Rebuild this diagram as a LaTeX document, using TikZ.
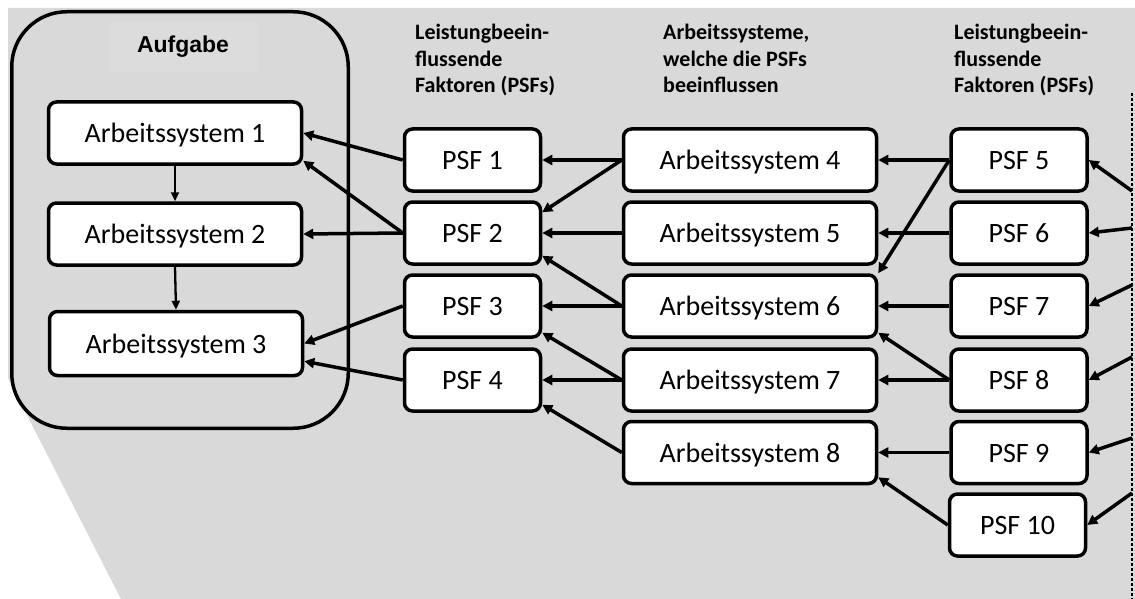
\documentclass[tikz,border=0pt]{standalone}
\usepackage{fontspec}
\setmainfont{Carlito}
\newfontfamily\labelfont{Liberation Sans}
\usetikzlibrary{arrows.meta,calc}
\definecolor{bggray}{HTML}{D9D9D9}
\definecolor{labelgray}{HTML}{DCDCDC}

\begin{document}
\begin{tikzpicture}[x=1pt,y=-1pt,
  box/.style={draw, line width=3.5pt, rounded corners=8pt, fill=white, inner sep=0pt,
    minimum height=62pt, text height=19pt, text depth=0pt,
    font=\fontsize{28}{30}\selectfont},
  wide/.style={box, minimum width=253pt},
  narrow/.style={box, minimum width=136pt},
  link/.style={line width=3.5pt, -{Triangle[length=10pt,width=10pt]}},
  flow/.style={line width=2.3pt, -{Triangle[length=9pt,width=8pt]}},
  header/.style={anchor=base west, align=left, inner sep=0pt,
    font=\fontsize{22}{26.5}\selectfont\bfseries},
]
\useasboundingbox (0,0) rectangle (1135,599);

% shaded backdrop
\fill[bggray] (8,8) -- (1135,8) -- (1135,599) -- (121,599) -- (8,378) -- cycle;

% task frame with its three work systems
\node[draw, line width=3.5pt, rounded corners=55pt, minimum width=336.5pt,
  minimum height=416.5pt, inner sep=0pt] (task) at (180,220) {};
\node[fill=labelgray, minimum width=147pt, minimum height=50pt, inner sep=0pt,
  font=\labelfont\fontsize{23}{25}\selectfont\bfseries] (tasklabel) at (183,47) {Aufgabe};

\node[wide] (as1) at (175,133) {Arbeitssystem 1};
\node[wide] (as2) at (175,234) {Arbeitssystem 2};
\node[wide, minimum height=64pt] (as3) at (176,343.5) {Arbeitssystem 3};

% column headers (anchored at the baseline of their last line)
\node[header] (h1) at (415,93) {Leistungbeein-\\flussende\\Faktoren (PSFs)};
\node[header] (h2) at (663,93) {Arbeitssysteme,\\welche die PSFs\\beeinflussen};
\node[header] (h3) at (954,93) {Leistungbeein-\\flussende\\Faktoren (PSFs)};

% first PSF column
\node[narrow] (psf1) at (472.5,160) {PSF 1};
\node[narrow] (psf2) at (472.5,233) {PSF 2};
\node[narrow] (psf3) at (472.5,306) {PSF 3};
\node[narrow] (psf4) at (472.5,380) {PSF 4};

% influencing work systems
\node[wide] (as4) at (750,160) {Arbeitssystem 4};
\node[wide] (as5) at (750,233) {Arbeitssystem 5};
\node[wide] (as6) at (750,306) {Arbeitssystem 6};
\node[wide] (as7) at (750,380) {Arbeitssystem 7};
\node[wide] (as8) at (750,452.5) {Arbeitssystem 8};

% second PSF column
\node[narrow] (psf5) at (1019,160) {PSF 5};
\node[narrow] (psf6) at (1019,233) {PSF 6};
\node[narrow] (psf7) at (1019,306) {PSF 7};
\node[narrow] (psf8) at (1019,380) {PSF 8};
\node[narrow] (psf9) at (1019,452.5) {PSF 9};
\node[narrow] (psf10) at (1017.5,525) {PSF 10};

% boundary on the right and the points where influences enter
\coordinate (top) at (1132,93);
\coordinate (bottom) at (1132,599);
\draw[line width=2pt, dash pattern=on 3pt off 2pt] (top) -- (bottom);
\coordinate (d5) at (1132,191);
\coordinate (d6) at (1132,228);
\coordinate (d7) at (1132,285);
\coordinate (d8) at (1132,357);
\coordinate (d9) at (1132,438);
\coordinate (d10) at (1132,493);

% sequence inside the task
\draw[flow] (as1.south) -- (as2.north);
\draw[flow] (as2.south) -- (as3.north);

% PSFs acting on the task
\draw[link] (psf1.west) -- (as1.east);
\draw[link] (psf2.west) -- ($(as1.south east)+(0,-5)$);
\draw[link] (psf2.west) -- (as2.east);
\draw[link] (psf3.west) -- (as3.east);
\draw[link] (psf4.west) -- ($(as3.south east)+(0,-16)$);

% work systems acting on the PSFs
\draw[link] (as4.west) -- (psf1.east);
\draw[link] (as4.west) -- ($(psf2.north east)+(0,12)$);
\draw[link] (as5.west) -- (psf2.east);
\draw[link] (as6.west) -- ($(psf2.south east)+(0,-10)$);
\draw[link] (as6.west) -- (psf3.east);
\draw[link] (as7.west) -- ($(psf3.south east)+(0,-6)$);
\draw[link] (as7.west) -- (psf4.east);
\draw[link] (as8.west) -- ($(psf4.south east)+(0,-8)$);

% PSFs acting on the work systems
\draw[link] (psf5.west) -- (as4.east);
\draw[link] (psf5.west) -- (as6.north east);
\draw[link] (psf6.west) -- (as5.east);
\draw[link] (psf7.west) -- (as6.east);
\draw[link] (psf8.west) -- ($(as6.south east)+(0,-6)$);
\draw[link] (psf8.west) -- (as7.east);
\draw[link] (psf9.west) -- (as8.east);
\draw[link] (psf10.west) -- ($(as8.south east)+(0,-8)$);

% influences from beyond the boundary
\draw[link] (d5) -- (psf5.east);
\draw[link] (d6) -- (psf6.east);
\draw[link] (d7) -- (psf7.east);
\draw[link] (d8) -- (psf8.east);
\draw[link] (d9) -- (psf9.east);
\draw[link] (d10) -- (psf10.east);
\end{tikzpicture}
\end{document}
